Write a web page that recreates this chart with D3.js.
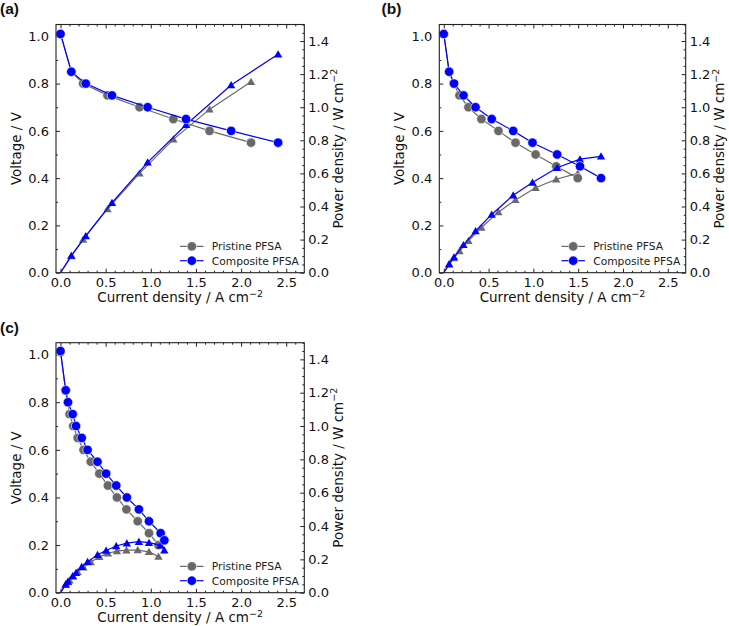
<!DOCTYPE html>
<html><head><meta charset="utf-8">
<script src="https://cdn.jsdelivr.net/npm/d3@7"></script>
<style>body{margin:0;background:#fff}svg{display:block}</style>
</head><body>
<script>
// ---------- data ----------
const panelLabels = ["(a)", "(b)", "(c)"];
const seriesNames = ["Pristine PFSA", "Composite PFSA"];
const xTicks = [0, 0.5, 1.0, 1.5, 2.0, 2.5];
const vTicks = [0, 0.2, 0.4, 0.6, 0.8, 1.0];
const pTicks = [0, 0.2, 0.4, 0.6, 0.8, 1.0, 1.2, 1.4];

// panel (a)
const aPristineI = [0.0, 0.12, 0.25, 0.52, 0.875, 1.25, 1.65, 2.11];
const aPristineV = [1.01, 0.85, 0.80, 0.75, 0.70, 0.65, 0.60, 0.55];
const aPristineP = [0.0, 0.10, 0.20, 0.385, 0.60, 0.806, 0.987, 1.154];
const aCompositeI = [0.0, 0.12, 0.28, 0.57, 0.965, 1.39, 1.89, 2.41];
const aCompositeV = [1.01, 0.85, 0.80, 0.75, 0.70, 0.65, 0.60, 0.55];
const aCompositeP = [0.0, 0.103, 0.222, 0.423, 0.667, 0.894, 1.134, 1.32];

// panel (b)
const bPristineI = [0.0, 0.06, 0.11, 0.175, 0.275, 0.42, 0.61, 0.80, 1.025, 1.255, 1.495];
const bPristineV = [1.01, 0.85, 0.80, 0.75, 0.70, 0.65, 0.60, 0.55, 0.50, 0.45, 0.40];
const bPristineP = [0.0, 0.051, 0.088, 0.131, 0.193, 0.273, 0.366, 0.44, 0.513, 0.565, 0.60];
const bCompositeI = [0.0, 0.06, 0.115, 0.22, 0.355, 0.535, 0.775, 0.99, 1.265, 1.52, 1.755];
const bCompositeV = [1.01, 0.85, 0.80, 0.75, 0.70, 0.65, 0.60, 0.55, 0.50, 0.45, 0.40];
const bCompositeP = [0.0, 0.052, 0.094, 0.168, 0.252, 0.352, 0.468, 0.545, 0.634, 0.686, 0.703];

// panel (c)
const cPristineI = [0.0, 0.055, 0.08, 0.10, 0.14, 0.19, 0.255, 0.335, 0.43, 0.525, 0.625, 0.73, 0.855, 0.98, 1.085];
const cPristineV = [1.01, 0.85, 0.80, 0.75, 0.70, 0.65, 0.60, 0.55, 0.50, 0.45, 0.40, 0.35, 0.30, 0.25, 0.20];
const cPristineP = [0.0, 0.047, 0.064, 0.075, 0.098, 0.124, 0.153, 0.184, 0.215, 0.236, 0.25, 0.255, 0.256, 0.245, 0.217];
const cCompositeI = [0.0, 0.058, 0.083, 0.135, 0.172, 0.235, 0.30, 0.41, 0.505, 0.617, 0.735, 0.868, 0.98, 1.109, 1.15];
const cCompositeV = [1.015, 0.85, 0.80, 0.75, 0.70, 0.65, 0.60, 0.55, 0.50, 0.45, 0.40, 0.35, 0.30, 0.25, 0.22];
const cCompositeP = [0.0, 0.05, 0.067, 0.10, 0.12, 0.155, 0.185, 0.228, 0.253, 0.28, 0.297, 0.306, 0.30, 0.284, 0.254];

// ---------- layout ----------
const W = 729, H = 626;
const colors = ["#696969", "#0000ff"];
const panels = [
  {label: panelLabels[0], x0: 56, x1: 304.3, y0: 24.5, y1: 272.7, lx: 0, ly: 14,
   series: [[aPristineI, aPristineV, aPristineP], [aCompositeI, aCompositeV, aCompositeP]]},
  {label: panelLabels[1], x0: 439.3, x1: 685.7, y0: 24.5, y1: 272.7, lx: 381.5, ly: 14,
   series: [[bPristineI, bPristineV, bPristineP], [bCompositeI, bCompositeV, bCompositeP]]},
  {label: panelLabels[2], x0: 56, x1: 304.3, y0: 342.7, y1: 592.7, lx: 0, ly: 333,
   series: [[cPristineI, cPristineV, cPristineP], [cCompositeI, cCompositeV, cCompositeP]]}
];

const svg = d3.select("body").append("svg").attr("width", W).attr("height", H);
const FONT = "DejaVu Sans, sans-serif";
const fmt = d3.format(".1f");
const triangle = d3.symbol().type(d3.symbolTriangle).size(30);

function minorRange(a, b, step, majors) {
  const out = [];
  for (let v = a; v <= b + 1e-9; v += step) {
    const r = Math.round(v * 1000) / 1000;
    if (!majors.some(m => Math.abs(m - r) < 1e-6)) out.push(r);
  }
  return out;
}

panels.forEach(p => {
  const g = svg.append("g");
  const x = d3.scaleLinear().domain([-0.05, 2.7]).range([p.x0, p.x1]);
  const yV = d3.scaleLinear().domain([0, 1.05]).range([p.y1, p.y0]);
  const yP = d3.scaleLinear().domain([0, 1.5]).range([p.y1, p.y0]);
  const pw = p.x1 - p.x0, ph = p.y1 - p.y0;

  const tickStyle = sel => {
    sel.select(".domain").remove();
    sel.selectAll("line").attr("stroke", "#222").attr("stroke-width", 1);
  };
  const xMinor = minorRange(0, 2.6, 0.1, xTicks);
  const vMinor = minorRange(0, 1.0, 0.1, vTicks);
  const pMinor = minorRange(0, 1.5, 0.05, pTicks);

  // bottom
  const xb = g.append("g").attr("transform", `translate(0,${p.y1})`)
    .call(d3.axisBottom(x).tickValues(xTicks).tickFormat(fmt).tickSizeInner(-4).tickSizeOuter(0).tickPadding(5));
  tickStyle(xb);
  xb.selectAll("text").attr("font-family", FONT).attr("font-size", 13).attr("fill", "#111");
  g.append("g").attr("transform", `translate(0,${p.y1})`)
    .call(d3.axisBottom(x).tickValues(xMinor).tickFormat("").tickSizeInner(-2).tickSizeOuter(0)).call(tickStyle);
  // top
  g.append("g").attr("transform", `translate(0,${p.y0})`)
    .call(d3.axisTop(x).tickValues(xTicks).tickFormat("").tickSizeInner(-4).tickSizeOuter(0)).call(tickStyle);
  g.append("g").attr("transform", `translate(0,${p.y0})`)
    .call(d3.axisTop(x).tickValues(xMinor).tickFormat("").tickSizeInner(-2).tickSizeOuter(0)).call(tickStyle);
  // left
  const yl = g.append("g").attr("transform", `translate(${p.x0},0)`)
    .call(d3.axisLeft(yV).tickValues(vTicks).tickFormat(fmt).tickSizeInner(-4).tickSizeOuter(0).tickPadding(7));
  tickStyle(yl);
  yl.selectAll("text").attr("font-family", FONT).attr("font-size", 13).attr("fill", "#111");
  g.append("g").attr("transform", `translate(${p.x0},0)`)
    .call(d3.axisLeft(yV).tickValues(vMinor).tickFormat("").tickSizeInner(-2).tickSizeOuter(0)).call(tickStyle);
  // right
  const yr = g.append("g").attr("transform", `translate(${p.x1},0)`)
    .call(d3.axisRight(yP).tickValues(pTicks).tickFormat(fmt).tickSizeInner(-4).tickSizeOuter(0).tickPadding(4));
  tickStyle(yr);
  yr.selectAll("text").attr("font-family", FONT).attr("font-size", 13).attr("fill", "#111");
  g.append("g").attr("transform", `translate(${p.x1},0)`)
    .call(d3.axisRight(yP).tickValues(pMinor).tickFormat("").tickSizeInner(-2).tickSizeOuter(0)).call(tickStyle);

  // series
  p.series.forEach((s, si) => {
    const [I, V, P] = s;
    const col = colors[si];
    const vData = I.map((d, i) => [d, V[i]]);
    const pData = I.map((d, i) => [d, P[i]]);
    g.append("path").datum(pData).attr("fill", "none").attr("stroke", col).attr("stroke-width", 1.2)
      .attr("d", d3.line().x(d => x(d[0])).y(d => yP(d[1])));
    g.append("path").datum(vData).attr("fill", "none").attr("stroke", col).attr("stroke-width", 1.2)
      .attr("d", d3.line().x(d => x(d[0])).y(d => yV(d[1])));
    g.selectAll(null).data(pData.filter(d => d[1] > 0)).enter().append("path")
      .attr("d", triangle).attr("fill", col)
      .attr("transform", d => `translate(${x(d[0])},${yP(d[1]) + 0.8})`);
    g.selectAll(null).data(vData).enter().append("circle")
      .attr("cx", d => x(d[0])).attr("cy", d => yV(d[1])).attr("r", 4.7)
      .attr("fill", col).attr("stroke", "#fff").attr("stroke-width", 0.6);
  });

  // frame
  g.append("rect").attr("x", p.x0).attr("y", p.y0).attr("width", pw).attr("height", ph)
    .attr("fill", "none").attr("stroke", "#222").attr("stroke-width", 1.1);

  // legend
  seriesNames.forEach((name, i) => {
    const ly = p.y1 - 26.3 + i * 14.3;
    const mx = p.x1 - 112.5;
    g.append("line").attr("x1", mx - 11.7).attr("x2", mx + 11.7).attr("y1", ly).attr("y2", ly)
      .attr("stroke", colors[i]).attr("stroke-width", 1.2);
    g.append("circle").attr("cx", mx).attr("cy", ly).attr("r", 4.7).attr("fill", colors[i])
      .attr("stroke", "#fff").attr("stroke-width", 0.6);
    g.append("text").attr("x", p.x1 - 92.5).attr("y", ly).attr("dy", "0.36em")
      .attr("font-family", FONT).attr("font-size", 10.7).attr("fill", "#222").text(name);
  });

  // axis titles
  const xt = g.append("text").attr("x", (p.x0 + p.x1) / 2).attr("y", p.y1 + 29.5)
    .attr("text-anchor", "middle").attr("font-family", FONT).attr("font-size", 13.5).attr("fill", "#111");
  xt.append("tspan").text("Current density / A cm");
  xt.append("tspan").attr("dy", -5.5).attr("font-size", 9.5).text("\u22122");

  g.append("text").attr("transform", `translate(${p.x0 - 40},${(p.y0 + p.y1) / 2}) rotate(-90)`)
    .attr("text-anchor", "middle").attr("dy", "0.36em").attr("font-family", FONT).attr("font-size", 13.5)
    .attr("fill", "#111").text("Voltage / V");

  const rt = g.append("text").attr("transform", `translate(${p.x1 + 33.5},${(p.y0 + p.y1) / 2}) rotate(-90)`)
    .attr("text-anchor", "middle").attr("dy", "0.36em").attr("font-family", FONT).attr("font-size", 13.5)
    .attr("fill", "#111");
  rt.append("tspan").text("Power density / W cm");
  rt.append("tspan").attr("dy", -5.5).attr("font-size", 9.5).text("\u22122");

  // panel label
  svg.append("text").attr("x", p.lx).attr("y", p.ly).attr("font-family", "Liberation Sans, Arial, sans-serif")
    .attr("font-weight", "bold").attr("font-size", 15.5).attr("fill", "#111").text(p.label);
});
</script>
</body></html>
